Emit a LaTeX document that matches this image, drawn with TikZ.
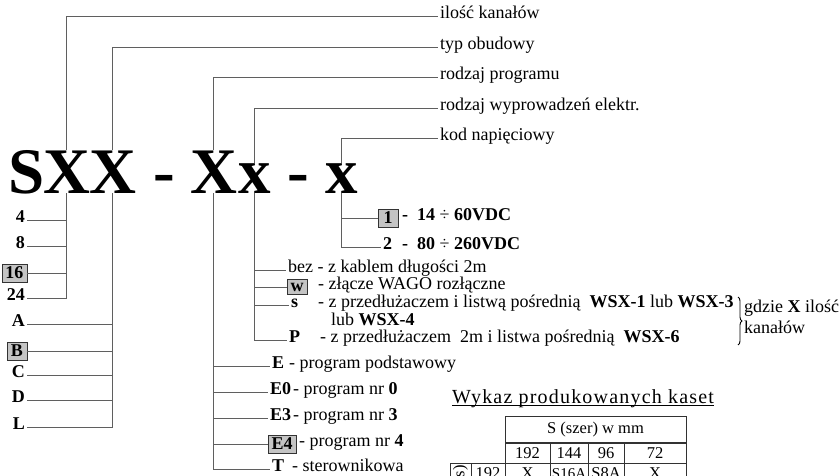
\documentclass[tikz,border=0pt]{standalone}
\usepackage{fontspec}
\setmainfont{Liberation Serif}
\usetikzlibrary{decorations.pathreplacing}
\definecolor{linegray}{RGB}{95,95,95}
\definecolor{boxgray}{RGB}{196,196,196}
\definecolor{tabline}{RGB}{50,50,50}
\begin{document}
\begin{tikzpicture}[x=1pt,y=-1pt,
  conn/.style={draw=linegray, line width=1pt},
  tab/.style={draw=tabline, line width=1pt},
  big/.style={font=\fontsize{65}{65}\selectfont\bfseries, inner sep=0pt, anchor=base west},
  lbl/.style={font=\fontsize{18}{19}\selectfont, inner sep=2pt, anchor=mid west},
  blbl/.style={lbl, font=\fontsize{18}{19}\selectfont\bfseries},
  codebox/.style={draw=black!80, fill=boxgray, font=\fontsize{18}{19}\selectfont\bfseries, inner xsep=3.5pt, inner ysep=1.5pt, minimum height=18pt, minimum width=20pt, anchor=west},
  tabtxt/.style={font=\fontsize{16.5}{18}\selectfont, inner sep=0pt}
]
\useasboundingbox (0,0) rectangle (840,475);

% main code letters
\node[big] (S)  at (8,193)   {S};
\node[big] (X1) at (43,193)  {X};
\node[big] (X2) at (89,193)  {X};
\node[big] (d1) at (153,193) {-};
\node[big] (X3) at (190,193) {X};
\node[big] (x4) at (238,193) {x};
\node[big] (d2) at (287,193) {-};
\node[big] (x5) at (325,193) {x};

% top labels
\node[lbl] (L1) at (438,16)  {ilość kanałów};
\node[lbl] (L2) at (438,47)  {typ obudowy};
\node[lbl] (L3) at (438,77)  {rodzaj programu};
\node[lbl] (L4) at (438,108) {rodzaj wyprowadzeń elektr.};
\node[lbl] (L5) at (438,138) {kod napięciowy};
\draw[conn] (X1.north) |- (L1.mid west);
\draw[conn] (X2.north) |- (L2.mid west);
\draw[conn] (X3.north) |- (L3.mid west);
\draw[conn] (x4.north) |- (L4.mid west);
\draw[conn] (x5.north) |- (L5.mid west);

% channel count
\node[blbl, anchor=mid east] (n4)  at (27,220) {4};
\node[blbl, anchor=mid east] (n8)  at (27,246) {8};
\node[codebox, anchor=east]  (n16) at (27,273) {16};
\node[blbl, anchor=mid east] (n24) at (27,298) {24};
\draw[conn] (X1.south) |- (n4.mid east);
\draw[conn] (X1.south) |- (n8.mid east);
\draw[conn] (X1.south) |- (n16.east);
\draw[conn] (X1.south) |- (n24.mid east);

% housing type
\node[blbl, anchor=mid east] (nA) at (27,324) {A};
\node[codebox, anchor=east]  (nB) at (27,351) {B};
\node[blbl, anchor=mid east] (nC) at (27,375) {C};
\node[blbl, anchor=mid east] (nD) at (27,400) {D};
\node[blbl, anchor=mid east] (nL) at (27,427) {L};
\draw[conn] (X2.south) |- (nA.mid east);
\draw[conn] (X2.south) |- (nB.east);
\draw[conn] (X2.south) |- (nC.mid east);
\draw[conn] (X2.south) |- (nD.mid east);
\draw[conn] (X2.south) |- (nL.mid east);

% program
\node[blbl] (cE)  at (270,366) {E};
\node[lbl]  (tE)  at (287,366) {- program podstawowy};
\node[blbl] (cE0) at (268,392) {E0};
\node[lbl]  (tE0) at (291,392) {- program nr \textbf{0}};
\node[blbl] (cE3) at (268,418) {E3};
\node[lbl]  (tE3) at (291,418) {- program nr \textbf{3}};
\node[codebox] (cE4) at (268,444) {E4};
\node[lbl]  (tE4) at (297,444) {- program nr \textbf{4}};
\node[blbl] (cT)  at (270,469) {T};
\node[lbl]  (tT)  at (290,469) {- sterownikowa};
\draw[conn] (X3.south) |- (cE.mid west);
\draw[conn] (X3.south) |- (cE0.mid west);
\draw[conn] (X3.south) |- (cE3.mid west);
\draw[conn] (X3.south) |- (cE4.west);
\draw[conn] (X3.south) |- (cT.mid west);

% electrical outputs
\node[lbl]  (tbez) at (286,270) {bez - z kablem długości 2m};
\node[codebox, minimum height=15pt, inner ysep=0.5pt] (cw) at (287,287) {w};
\node[lbl]  (tw)  at (316,287) {- złącze WAGO rozłączne};
\node[blbl] (cs)  at (289,305) {s};
\node[lbl]  (ts)  at (316,305) {- z przedłużaczem i listwą pośrednią\ \ \textbf{WSX-1} lub \textbf{WSX-3}};
\node[lbl]  (ts2) at (329,323) {lub \textbf{WSX-4}};
\node[blbl] (cP)  at (287,340) {P};
\node[lbl]  (tP)  at (318,340) {- z przedłużaczem\ \ 2m i listwa pośrednią\ \ \textbf{WSX-6}};
\draw[conn] (x4.south) |- (tbez.mid west);
\draw[conn] (x4.south) |- (cw.west);
\draw[conn] (x4.south) |- (cs.mid west);
\draw[conn] (x4.south) |- (cP.mid west);

% brace note
\coordinate (bt) at (738,297);
\coordinate (bb) at (738,345);
\draw[black, line width=0.9pt, decorate, decoration={brace, amplitude=4pt}] (bt) -- (bb);
\node[lbl] (g1) at (742,310) {gdzie \textbf{X} ilość};
\node[lbl] (g2) at (742,331) {kanałów};

% voltage code
\node[codebox] (v1) at (378,218) {1};
\node[blbl] (t1) at (400,218) {-\ \ 14 {\mdseries ÷} 60VDC};
\node[blbl] (v2) at (381,247) {2};
\node[blbl] (t2) at (400,247) {-\ \ 80 {\mdseries ÷} 260VDC};
\draw[conn] (x5.south) |- (v1.west);
\draw[conn] (x5.south) |- (v2.mid west);

% table
\node[font=\fontsize{20}{22}\selectfont\addfontfeature{LetterSpace=6}, inner sep=0pt, anchor=base west] (wyk) at (452,403) {Wykaz produkowanych kaset};
\draw[black, line width=0.9pt] ([yshift=-2pt]wyk.base west) -- ([yshift=-2pt]wyk.base east);

\draw[tab] (505,416) rectangle (686,483);
\draw[tab, line width=1.8pt] (505,443) -- (686,443);
\draw[tab] (450,463) -- (686,463);
\draw[tab] (450,463) -- (450,483);
\draw[tab] (471,463) -- (471,483);
\draw[tab] (550,443) -- (550,483);
\draw[tab] (588,443) -- (588,483);
\draw[tab] (624,443) -- (624,483);

\node[tabtxt] (th)   at (595.5,429.5) {S (szer) w mm};
\node[tabtxt] (c192) at (527.5,453) {192};
\node[tabtxt] (c144) at (569,453)   {144};
\node[tabtxt] (c96)  at (606,453)   {96};
\node[tabtxt] (c72)  at (655,453)   {72};
\node[tabtxt, rotate=90, anchor=east] (rot) at (460.5,465) {(wys)};
\node[tabtxt] (r192) at (488,473.5) {192};
\node[tabtxt] (rX1)  at (527.5,473.5) {X};
\node[tabtxt, font=\fontsize{15}{17}\selectfont] (rS16) at (569,473.5) {S16A};
\node[tabtxt] (rS8)  at (606,473.5) {S8A};
\node[tabtxt] (rX2)  at (655,473.5) {X};
\end{tikzpicture}
\end{document}
